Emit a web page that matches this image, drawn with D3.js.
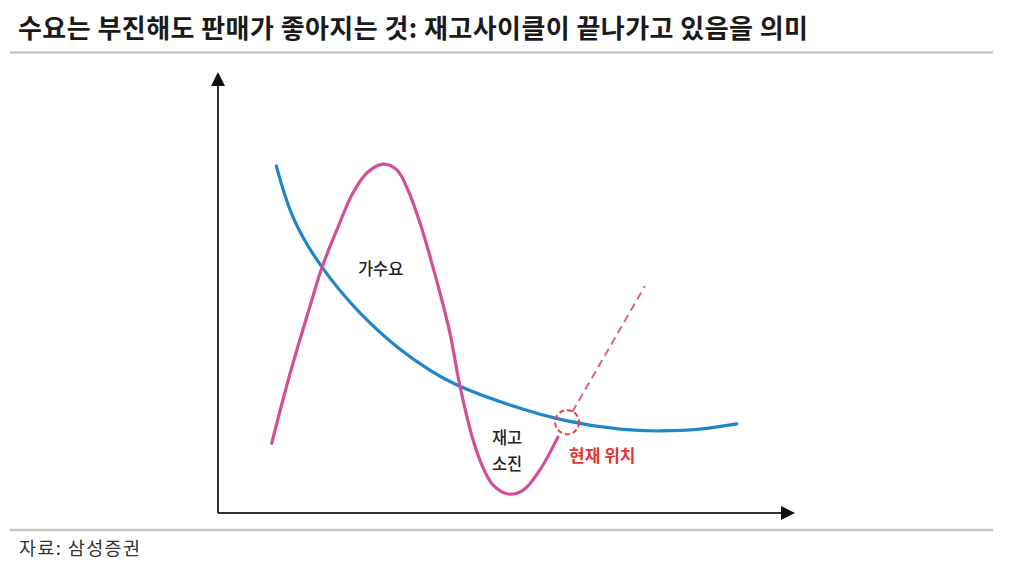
<!DOCTYPE html>
<html><head><meta charset="utf-8">
<script src="https://cdn.jsdelivr.net/npm/d3@7"></script>
<style>
body{margin:0;background:#fff;}
svg{display:block;}
text{font-family:"Noto Sans CJK KR","Noto Sans",sans-serif;}
</style></head>
<body>
<svg id="chart" width="1012" height="569"></svg>
<script>
// ---- data (conceptual units, 0-100 on both axes) ----
const titleText = "수요는 부진해도 판매가 좋아지는 것: 재고사이클이 끝나가고 있음을 의미";
const sourceText = "자료: 삼성증권";
const demandX = [10.1, 13.0, 18.0, 24.6, 31.5, 36.7, 41.8, 50.6, 60.5, 69.7, 76.6, 83.5, 89.9];
const demandY = [78.7, 67.1, 55.8, 45.4, 37.2, 32.4, 28.8, 24.5, 20.9, 19.0, 18.6, 19.0, 20.2];
const salesX = [9.3, 12.5, 15.9, 18.0, 20.6, 23.4, 25.8, 28.6, 31.0, 33.0, 35.0, 38.0, 40.2, 41.9, 44.2, 45.9, 47.7, 50.3, 52.9, 55.8, 58.9];
const salesY = [15.8, 31.7, 46.7, 55.6, 64.2, 72.6, 77.1, 79.1, 77.8, 73.0, 65.8, 52.2, 40.8, 29.0, 16.6, 10.4, 6.3, 4.3, 5.2, 9.8, 17.2];
const forecastX = [61.4, 74.0];
const forecastY = [22.9, 51.5];
const currentPos = [60.5, 20.6];
const labelTexts = ["가수요", "재고", "소진", "현재 위치"];
const labelX = [28.2, 50.1, 50.1, 66.6];
const labelY = [55.6, 17.2, 11.3, 13.2];

const svg = d3.select("#chart");
const x = d3.scaleLinear().domain([0, 100]).range([218, 795]);
const y = d3.scaleLinear().domain([0, 100]).range([513, 72]);

// title + rules
svg.append("text").attr("x", 18).attr("y", 38).attr("font-size", 26).attr("font-weight", 700)
  .attr("fill", "#1a1a1a").attr("textLength", 790).attr("lengthAdjust", "spacing").text(titleText);
svg.append("line").attr("x1", 10).attr("x2", 993).attr("y1", 52.5).attr("y2", 52.5)
  .attr("stroke", "#c8c8c8").attr("stroke-width", 2.5);
svg.append("line").attr("x1", 10).attr("x2", 993).attr("y1", 530).attr("y2", 530)
  .attr("stroke", "#c8c8c8").attr("stroke-width", 2.5);
svg.append("text").attr("x", 19).attr("y", 555).attr("font-size", 18.5)
  .attr("fill", "#333").attr("textLength", 121).attr("lengthAdjust", "spacing").text(sourceText);

// axes with arrows
const ax = svg.append("g").attr("stroke", "#333").attr("stroke-width", 2);
ax.append("line").attr("x1", x(0)).attr("y1", y(0)).attr("x2", x(0)).attr("y2", y(100) + 12);
ax.append("line").attr("x1", x(0)).attr("y1", y(0)).attr("x2", x(100) - 12).attr("y2", y(0));
svg.append("path").attr("fill", "#111")
  .attr("d", `M${x(0)},${y(100)}L${x(0)-7},${y(100)+14}L${x(0)+7},${y(100)+14}Z`);
svg.append("path").attr("fill", "#111")
  .attr("d", `M${x(100)},${y(0)}L${x(100)-14},${y(0)-7}L${x(100)-14},${y(0)+7}Z`);

const smooth = d3.line().x(d => x(d[0])).y(d => y(d[1])).curve(d3.curveNatural);
const line = d3.line().x(d => x(d[0])).y(d => y(d[1])).curve(d3.curveCatmullRom.alpha(0.5));

svg.append("path").datum(demandX.map((v, i) => [v, demandY[i]]))
  .attr("d", smooth).attr("fill", "none").attr("stroke", "#1f86c9").attr("stroke-width", 3.2)
  .attr("stroke-linecap", "round");
svg.append("path").datum(salesX.map((v, i) => [v, salesY[i]]))
  .attr("d", line).attr("fill", "none").attr("stroke", "#d24f96").attr("stroke-width", 3.2)
  .attr("stroke-linecap", "round");
svg.append("path").datum(forecastX.map((v, i) => [v, forecastY[i]]))
  .attr("d", d3.line().x(d => x(d[0])).y(d => y(d[1]))).attr("fill", "none")
  .attr("stroke", "#d8609f").attr("stroke-width", 2).attr("stroke-dasharray", "8,5");

svg.append("circle").attr("cx", x(currentPos[0])).attr("cy", y(currentPos[1])).attr("r", 12)
  .attr("fill", "none").attr("stroke", "#e8403a").attr("stroke-width", 2).attr("stroke-dasharray", "5,3");

labelTexts.forEach((t, i) => {
  svg.append("text").attr("x", x(labelX[i])).attr("y", y(labelY[i]))
    .attr("text-anchor", "middle").attr("dominant-baseline", "central")
    .attr("font-size", i === 3 ? 17 : 16.5).attr("font-weight", i === 3 ? 700 : 500)
    .attr("fill", i === 3 ? "#e8352f" : "#222").text(t);
});
</script>
</body></html>
